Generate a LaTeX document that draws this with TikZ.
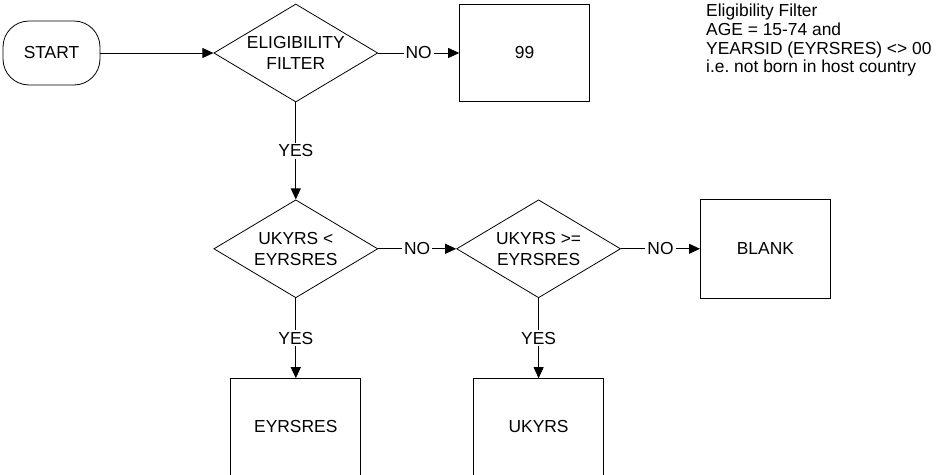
\documentclass[tikz,border=0pt]{standalone}
\usepackage{fontspec}
\setmainfont{Liberation Sans}
\usetikzlibrary{arrows.meta,shapes,positioning}

\begin{document}
\begin{tikzpicture}[
    x=1pt, y=1pt,
    font=\fontsize{17.4}{21}\selectfont,
    node distance=80pt and 80pt,
    terminal/.style={draw, rectangle, rounded corners=26pt, minimum width=97pt, minimum height=64pt},
    decision/.style={draw, diamond, aspect=1.67, inner sep=0pt, minimum width=164pt, minimum height=98pt, align=center},
    block/.style={draw, rectangle, minimum width=130pt, minimum height=98pt, align=center},
    tallblock/.style={draw, rectangle, minimum width=130pt, minimum height=140pt, align=center, text depth=44pt},
    arrow/.style={-{Triangle[length=11pt, width=10pt]}, line width=0.8pt},
    lbl/.style={fill=white, inner sep=2pt},
    note/.style={align=left, inner sep=0pt, font=\fontsize{17.4}{18.7}\selectfont}
]
    \useasboundingbox (0,0) rectangle (945,-474);
    \clip (0,0) rectangle (945,-474);

    % Row 1: filter
    \node [terminal, line width=0.8pt] (start) at (51.5,-53) {START};
    \node [decision, line width=0.8pt, right=113pt of start] (filter) {ELIGIBILITY\\FILTER};
    \node [block, line width=0.8pt, minimum height=97pt, right=81pt of filter] (out99) {99};

    % Note
    \node [note, anchor=north west] (note) at (706,-4) {Eligibility Filter\\AGE = 15-74 and\\YEARSID (EYRSRES) <> 00\\i.e.\ not born in host country};

    % Row 2: comparisons
    \node [decision, line width=0.8pt, below=97pt of filter] (ukless) {UKYRS <\\EYRSRES};
    \node [decision, line width=0.8pt, right=78pt of ukless] (ukge) {UKYRS >=\\EYRSRES};
    \node [block, line width=0.8pt, minimum height=99pt, right=79pt of ukge] (blank) {BLANK};

    % Row 3: results (cut by the page edge)
    \node [tallblock, line width=0.8pt, below=80pt of ukless] (eyrsres) {EYRSRES};
    \node [tallblock, line width=0.8pt, below=80pt of ukge] (ukyrs) {UKYRS};

    % Arrows
    \draw [arrow] (start) -- (filter);
    \draw [arrow] (filter) -- node[lbl] {NO} (out99);
    \draw [arrow] (filter) -- node[lbl] {YES} (ukless);
    \draw [arrow] (ukless) -- node[lbl] {NO} (ukge);
    \draw [arrow] (ukge) -- node[lbl] {NO} (blank);
    \draw [arrow] (ukless) -- node[lbl] {YES} (eyrsres);
    \draw [arrow] (ukge) -- node[lbl] {YES} (ukyrs);

\end{tikzpicture}
\end{document}
